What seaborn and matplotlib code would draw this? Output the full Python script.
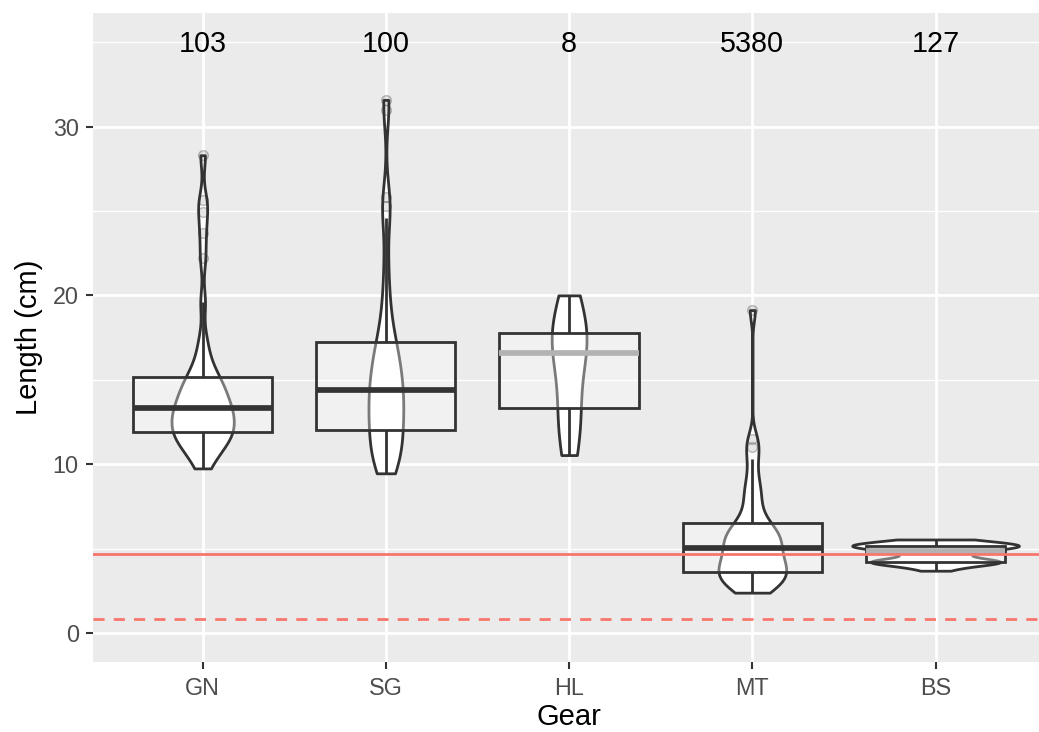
import numpy as np
import pandas as pd
import matplotlib
matplotlib.use("Agg")
import matplotlib.pyplot as plt
import seaborn as sns

# ---- data -------------------------------------------------------------
gears = ["GN", "SG", "HL", "MT", "BS"]
sample_sizes = [103, 100, 8, 5380, 127]

# representative length observations (cm) per gear
length_gn = [9.75, 10.2, 10.55, 10.85, 11.05, 11.25, 11.4, 11.55, 11.7, 11.8,
             11.93, 12.05, 12.2, 12.35, 12.5, 12.65, 12.8, 12.95, 13.05, 13.2,
             13.31, 13.5, 13.65, 13.8, 14.0, 14.2, 14.4, 14.6, 14.8, 14.98,
             15.18, 15.55, 16.0, 16.6, 17.5, 19.6, 22.2, 23.7, 24.95, 25.65, 28.3]
length_sg = [9.46, 9.7, 9.95, 10.2, 10.45, 10.7, 10.95, 11.2, 11.5, 11.75,
             12.03, 12.28, 12.52, 12.76, 13.0, 13.2, 13.45, 13.7, 13.95, 14.2,
             14.4, 14.65, 14.9, 15.15, 15.4, 15.7, 16.0, 16.3, 16.6, 16.93,
             17.26, 17.8, 18.5, 19.4, 20.6, 22.3, 24.6, 25.3, 25.85, 30.98, 31.58]
length_hl = [10.54, 12.5, 13.58, 16.2, 17.0, 17.5, 18.5, 20.0]
length_mt = [2.39, 2.55, 2.7, 2.84, 2.98, 3.1, 3.22, 3.33, 3.43, 3.53,
             3.63, 3.76, 3.89, 4.01, 4.13, 4.26, 4.39, 4.53, 4.68, 4.86,
             5.05, 5.18, 5.31, 5.44, 5.57, 5.71, 5.85, 6.0, 6.15, 6.32,
             6.5, 6.85, 7.3, 7.8, 8.3, 8.7, 9.4, 10.3, 11.0, 11.5, 19.13]
length_bs = [3.69, 3.82, 3.94, 4.04, 4.12, 4.17, 4.20, 4.21, 4.22, 4.22,
             4.22, 4.22, 4.23, 4.26, 4.36, 4.48, 4.60, 4.70, 4.78, 4.84,
             4.88, 4.95, 5.02, 5.07, 5.11, 5.13, 5.14, 5.15, 5.15, 5.15,
             5.15, 5.17, 5.20, 5.24, 5.29, 5.34, 5.39, 5.43, 5.47, 5.51, 5.54]

reference_length = 4.7
lower_reference_length = 0.85

# ---- styling ----------------------------------------------------------
violin_widths = [0.34, 0.19, 0.19, 0.37, 0.91]
violin_bw_adjust = [0.38, 0.5, 0.9, 0.45, 0.8]
median_colors = ["#333333", "#333333", "#B3B3B3", "#333333", "#B3B3B3"]
ink = "#333333"
line_w = 2.0

lengths = [length_gn, length_sg, length_hl, length_mt, length_bs]
df = pd.DataFrame({
    "Gear": np.repeat(gears, [len(v) for v in lengths]),
    "Length": np.concatenate(lengths),
})

plt.rcParams["font.family"] = ["Liberation Sans", "DejaVu Sans"]

fig = plt.figure(figsize=(10.39, 7.32), dpi=100)
ax = fig.add_axes([92.7 / 1039, 70.3 / 732, (1045.5 - 92.7) / 1039, (661.7 - 13.3) / 732])

# violins underneath
for i, g in enumerate(gears):
    sub = df[df["Gear"] == g]
    sns.violinplot(data=sub, x="Gear", y="Length", order=gears, ax=ax,
                   width=violin_widths[i], bw_adjust=violin_bw_adjust[i],
                   cut=0, inner=None, color="white", saturation=1,
                   linecolor=ink, linewidth=line_w)

# translucent boxes on top
for i, g in enumerate(gears):
    sub = df[df["Gear"] == g]
    sns.boxplot(data=sub, x="Gear", y="Length", order=gears, ax=ax,
                width=0.76, color="white", saturation=1, linecolor=ink,
                linewidth=line_w, showcaps=False,
                boxprops=dict(facecolor=(1, 1, 1, 0.35), edgecolor=ink, linewidth=line_w),
                medianprops=dict(color=median_colors[i], linewidth=4.1,
                                 solid_capstyle="butt"),
                whiskerprops=dict(color=ink, linewidth=line_w),
                flierprops=dict(marker="o", markersize=7,
                                markerfacecolor=(0.2, 0.2, 0.2, 0.12),
                                markeredgecolor=(0.2, 0.2, 0.2, 0.3),
                                markeredgewidth=1.0))

# reference lengths
ax.axhline(reference_length, color="#F8766D", lw=2.0, zorder=5)
ax.axhline(lower_reference_length, color="#F8766D", lw=2.0,
           ls=(0, (4, 3.3)), zorder=5)

# sample sizes above each gear
for i, n in enumerate(sample_sizes):
    ax.text(i, 34.9, str(n), ha="center", va="center", fontsize=20.7,
            color="black", zorder=6)

# ---- axes look --------------------------------------------------------
ax.set_xlim(-0.6, 4.6)
ax.set_ylim(-1.70, 36.71)
ax.set_facecolor("#EBEBEB")
for s in ax.spines.values():
    s.set_visible(False)

ax.set_xticks(range(len(gears)))
ax.set_xticklabels(gears)
ax.set_yticks([0, 10, 20, 30])
ax.set_yticks([5, 15, 25, 35], minor=True)
ax.xaxis.grid(True, which="major", color="white", linewidth=2.0)
ax.yaxis.grid(True, which="major", color="white", linewidth=2.0)
ax.yaxis.grid(True, which="minor", color="white", linewidth=1.0)
ax.set_axisbelow(True)

ax.tick_params(which="major", length=5.2, width=1.5, color=ink,
               labelsize=16.8, labelcolor="#4D4D4D")
ax.tick_params(axis="x", pad=5.5)
ax.tick_params(axis="y", pad=4.8)
ax.tick_params(which="minor", length=0)

ax.set_xlabel("Gear", fontsize=21, color="black", labelpad=2.5)
ax.set_ylabel("Length (cm)", fontsize=21, color="black", labelpad=7.2)

fig.savefig("out.png", dpi=100, facecolor="white")
